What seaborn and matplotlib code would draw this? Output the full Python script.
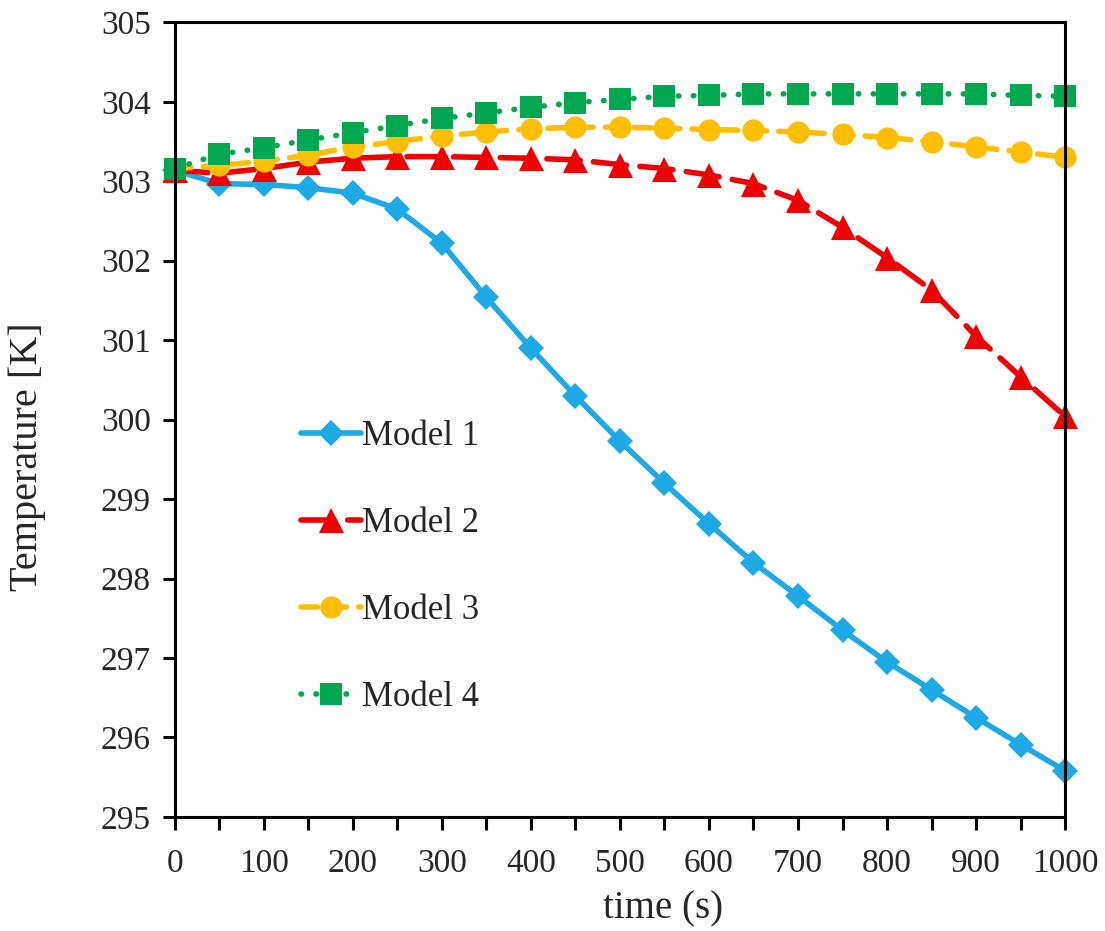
import matplotlib
matplotlib.use("Agg")
import matplotlib.pyplot as plt
import numpy as np
import pandas as pd
import seaborn as sns
from matplotlib.ticker import MultipleLocator

time_s = [0, 50, 100, 150, 200, 250, 300, 350, 400, 450, 500,
          550, 600, 650, 700, 750, 800, 850, 900, 950, 1000]

model_1 = [303.14, 302.97, 302.96, 302.92, 302.85, 302.65, 302.22, 301.54, 300.90, 300.30, 299.73,
           299.20, 298.69, 298.20, 297.78, 297.35, 296.95, 296.60, 296.25, 295.91, 295.58]
model_2 = [303.14, 303.10, 303.16, 303.24, 303.29, 303.31, 303.31, 303.30, 303.29, 303.27, 303.21,
           303.16, 303.08, 302.97, 302.76, 302.42, 302.04, 301.63, 301.05, 300.54, 300.04]
model_3 = [303.16, 303.20, 303.25, 303.33, 303.43, 303.50, 303.57, 303.62, 303.66, 303.68, 303.68,
           303.67, 303.65, 303.64, 303.62, 303.59, 303.55, 303.50, 303.43, 303.37, 303.30]
model_4 = [303.16, 303.34, 303.42, 303.52, 303.61, 303.70, 303.79, 303.86, 303.93, 303.99, 304.03,
           304.07, 304.08, 304.10, 304.10, 304.10, 304.10, 304.10, 304.10, 304.08, 304.07]

series = {"Model 1": model_1, "Model 2": model_2, "Model 3": model_3, "Model 4": model_4}
styles = {
    "Model 1": dict(color="#1CA9E6", marker="D", markersize=13, linestyle="-"),
    "Model 2": dict(color="#F00000", marker="^", markersize=18, linestyle=(0, (6, 2.4))),
    "Model 3": dict(color="#FFBF00", marker="o", markersize=16, linestyle=(0, (3, 2.2))),
    "Model 4": dict(color="#00A84F", marker="s", markersize=16, linestyle=(0, (0.1, 2.6))),
}

df = pd.DataFrame({"time": time_s, **series}).melt(id_vars="time", var_name="model", value_name="temp")

sns.set_style("white")
plt.rcParams["font.family"] = ["Liberation Serif", "DejaVu Serif"]

fig = plt.figure(figsize=(11.05, 9.31), dpi=100)
ax = fig.add_axes([0.158, 0.1225, 0.806, 0.8535])

for name in series:
    sub = df[df["model"] == name]
    st = styles[name]
    sns.lineplot(data=sub, x="time", y="temp", ax=ax, label=name, color=st["color"],
                 marker=st["marker"], markersize=st["markersize"], markeredgewidth=0,
                 linewidth=4.0, dash_capstyle="round", solid_capstyle="round", clip_on=False)
    ax.lines[-1].set_linestyle(st["linestyle"])

ax.set_xlim(0, 1000)
ax.set_ylim(295, 305)
ax.xaxis.set_major_locator(MultipleLocator(100))
ax.xaxis.set_minor_locator(MultipleLocator(50))
ax.yaxis.set_major_locator(MultipleLocator(1))
ax.tick_params(axis="both", which="both", direction="out", length=9, width=2.2,
               color="black", labelsize=24, pad=8, bottom=True, left=True)
ax.tick_params(axis="x", pad=14)

for sp in ax.spines.values():
    sp.set_color("black")
    sp.set_linewidth(2.2)

ax.set_xlabel("time (s)", fontsize=28)
ax.set_ylabel("Temperature [K]", fontsize=29)
ax.xaxis.set_label_coords(0.549, -0.092)
ax.yaxis.set_label_coords(-0.144, 0.454)

leg = ax.legend(loc="center left", bbox_to_anchor=(0.123, 0.3145), frameon=False,
                fontsize=25, handlelength=1.7, handletextpad=0.05, labelspacing=1.56,
                borderpad=0)
for h in leg.get_lines():
    h.set_linewidth(4.0)

fig.savefig("out.png", dpi=100)
